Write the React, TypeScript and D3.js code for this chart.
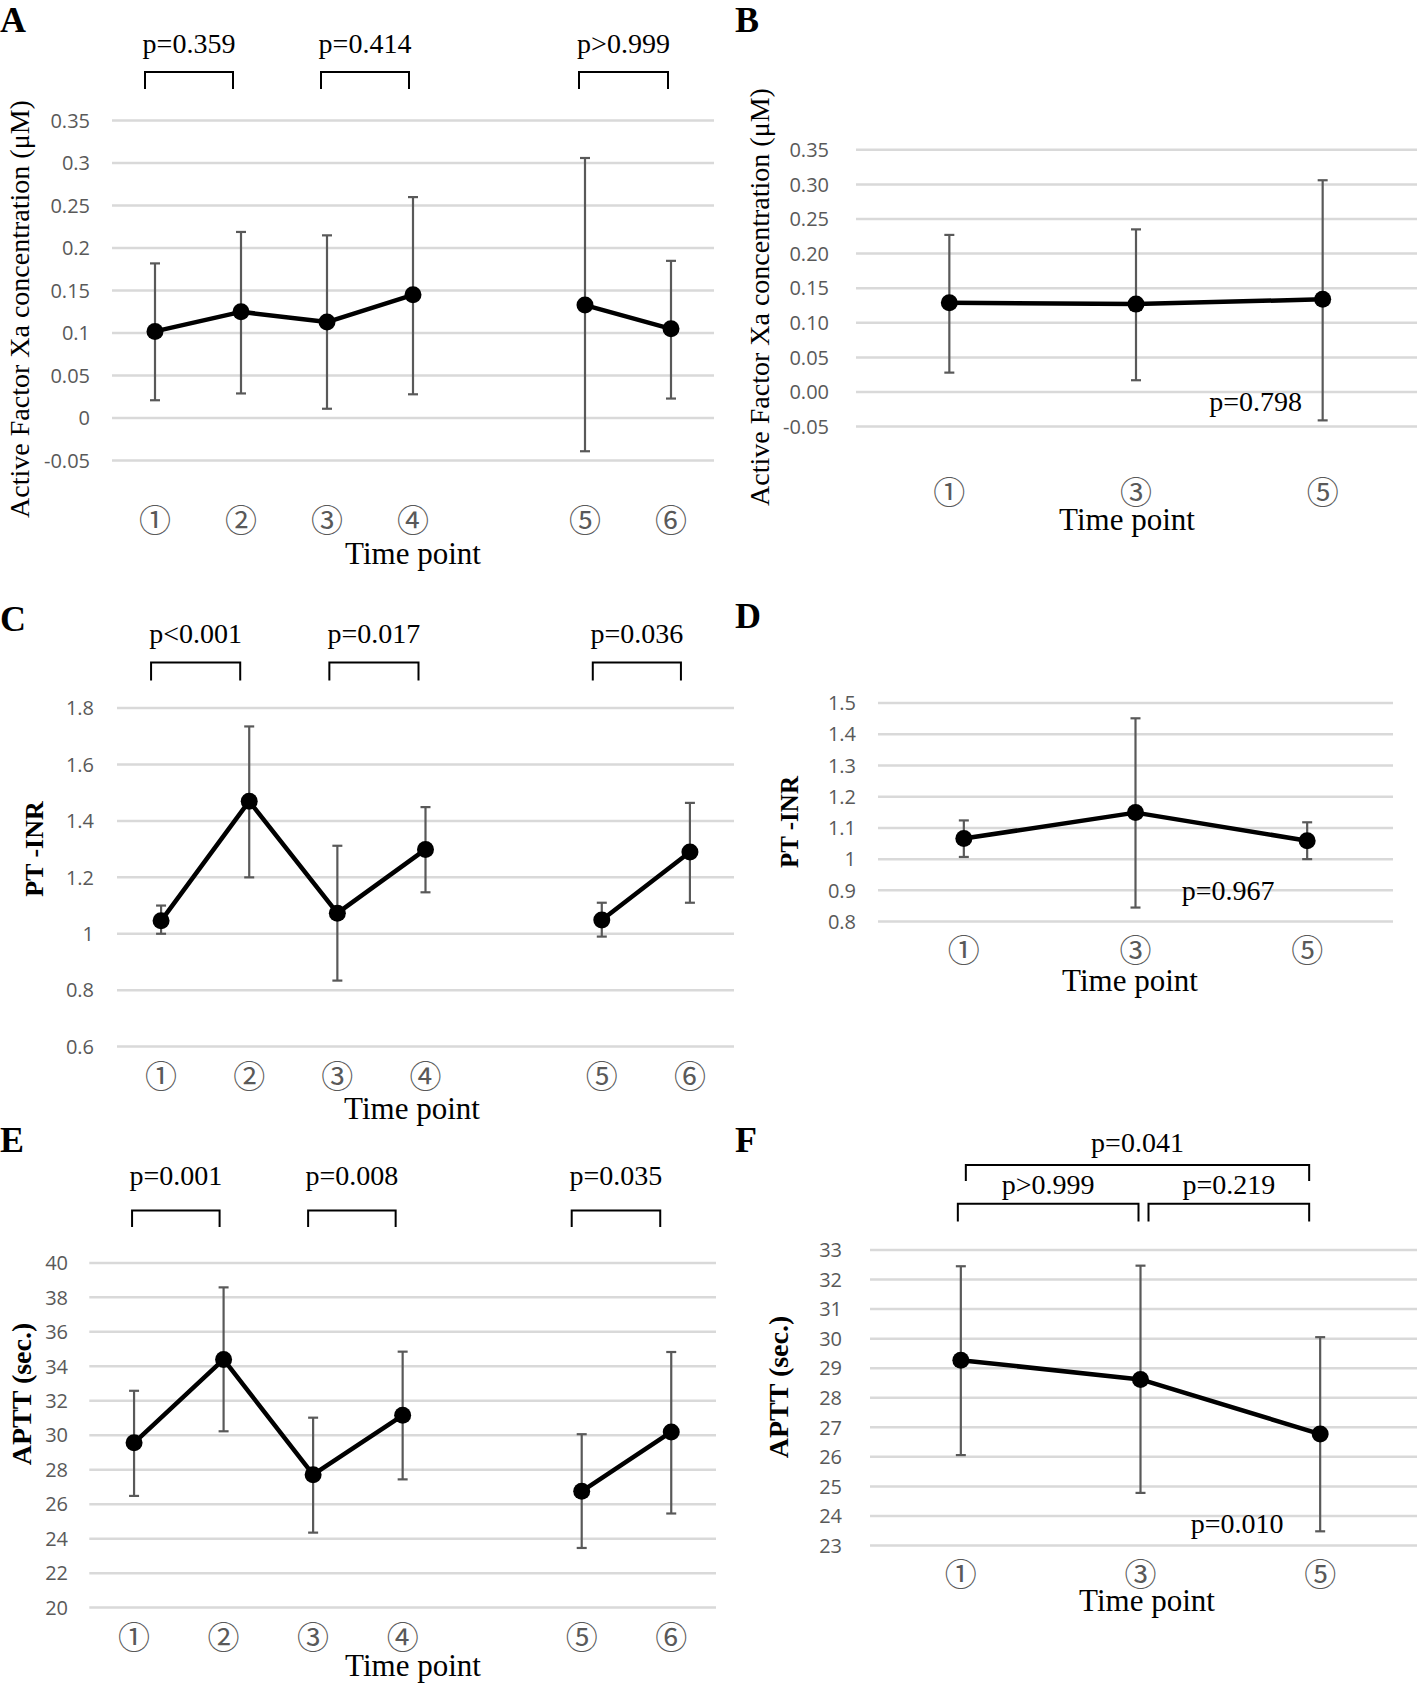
import React from 'react';
import * as d3 from 'd3';

// ---------- categories ----------
const slots6 = ['①', '②', '③', '④', '', '⑤', '⑥'];
const slots3 = ['①', '③', '⑤'];

// ---------- A: active factor Xa (all time points) ----------
const xaMeanA = [0.102, 0.125, 0.113, 0.145, null, 0.133, 0.105];
const xaLowA = [0.021, 0.029, 0.011, 0.028, null, -0.039, 0.023];
const xaHighA = [0.182, 0.219, 0.215, 0.260, null, 0.306, 0.185];
const ticksA = [-0.05, 0, 0.05, 0.1, 0.15, 0.2, 0.25, 0.3, 0.35];

// ---------- B: active factor Xa (1,3,5) ----------
const xaMeanB = [0.129, 0.127, 0.134];
const xaLowB = [0.028, 0.017, -0.041];
const xaHighB = [0.227, 0.235, 0.306];
const ticksB = [-0.05, 0, 0.05, 0.1, 0.15, 0.2, 0.25, 0.3, 0.35];

// ---------- C: PT-INR ----------
const inrMeanC = [1.046, 1.470, 1.073, 1.299, null, 1.049, 1.290];
const inrLowC = [1.0, 1.2, 0.834, 1.147, null, 0.99, 1.11];
const inrHighC = [1.10, 1.735, 1.312, 1.449, null, 1.11, 1.464];
const ticksC = [0.6, 0.8, 1.0, 1.2, 1.4, 1.6, 1.8];

// ---------- D: PT-INR (1,3,5) ----------
const inrMeanD = [1.066, 1.149, 1.059];
const inrLowD = [1.007, 0.845, 1.0];
const inrHighD = [1.124, 1.451, 1.118];
const ticksD = [0.8, 0.9, 1.0, 1.1, 1.2, 1.3, 1.4, 1.5];

// ---------- E: APTT ----------
const apttMeanE = [29.56, 34.4, 27.71, 31.16, null, 26.75, 30.19];
const apttLowE = [26.48, 30.23, 24.35, 27.44, null, 23.46, 25.46];
const apttHighE = [32.58, 38.58, 31.02, 34.85, null, 30.06, 34.83];
const ticksE = [20, 22, 24, 26, 28, 30, 32, 34, 36, 38, 40];

// ---------- F: APTT (1,3,5) ----------
const apttMeanF = [29.27, 28.62, 26.77];
const apttLowF = [26.06, 24.78, 23.48];
const apttHighF = [32.45, 32.47, 30.05];
const ticksF = [23, 24, 25, 26, 27, 28, 29, 30, 31, 32, 33];

// ---------- p-value comparisons ----------
const pairsA = [{ a: 0, b: 1, label: 'p=0.359' }, { a: 2, b: 3, label: 'p=0.414' }, { a: 5, b: 6, label: 'p>0.999' }];
const pairsC = [{ a: 0, b: 1, label: 'p<0.001' }, { a: 2, b: 3, label: 'p=0.017' }, { a: 5, b: 6, label: 'p=0.036' }];
const pairsE = [{ a: 0, b: 1, label: 'p=0.001' }, { a: 2, b: 3, label: 'p=0.008' }, { a: 5, b: 6, label: 'p=0.035' }];
const pairsF = [{ a: 0, b: 1, label: 'p>0.999' }, { a: 1, b: 2, label: 'p=0.219' }, { a: 0, b: 2, label: 'p=0.041' }];
const overallB = 'p=0.798';
const overallD = 'p=0.967';
const overallF = 'p=0.010';

// ---------- styles ----------
const SERIF = '"Liberation Serif","Times New Roman",serif';
const SANS = '"Open Sans","Noto Sans",sans-serif';
const CIRC = '"Noto Sans CJK JP","Noto Sans CJK SC",sans-serif';
const GRID = '#d9d9d9';
const GRAY = '#595959';

type Pair = { a: number; b: number; label: string };
type PanelDef = {
  letter: string; letterX: number; letterY: number;
  yTitle: string; yTitleX: number; yTitleY: number; yTitleSize: number; yTitleBold: boolean;
  cats: string[]; mean: (number | null)[]; low: (number | null)[]; high: (number | null)[];
  ticks: number[]; fmt: (v: number) => string;
  x0: number; x1: number; gridX0: number; gridX1: number; yTop: number; yBottom: number;
  tickRight: number; catY: number; timeX: number; timeY: number;
  pairs?: Pair[]; levels?: number[]; insets?: [number, number][];
  levelY?: { line: number; leg: number; text: number }[];
  note?: string; noteDx?: number; noteY?: number;
};

const genFmt = (v: number) => String(+v.toFixed(2));
const fix2 = (v: number) => v.toFixed(2);

const panels: PanelDef[] = [
  {
    letter: 'A', letterX: 0, letterY: 32, yTitle: 'Active Factor Xa concentration (μM)', yTitleX: 29, yTitleY: 309, yTitleSize: 28, yTitleBold: false,
    cats: slots6, mean: xaMeanA, low: xaLowA, high: xaHighA, ticks: ticksA, fmt: genFmt,
    x0: 112, x1: 714, gridX0: 112, gridX1: 714, yTop: 120.6, yBottom: 460.6,
    tickRight: 90, catY: 520, timeX: 413, timeY: 564,
    pairs: pairsA, levels: [0, 0, 0], insets: [[-10, -8], [-6, -4], [-6, -3]],
    levelY: [{ line: 72, leg: 89, text: 53 }],
  },
  {
    letter: 'B', letterX: 735, letterY: 32, yTitle: 'Active Factor Xa concentration (μM)', yTitleX: 769, yTitleY: 297, yTitleSize: 28, yTitleBold: false,
    cats: slots3, mean: xaMeanB, low: xaLowB, high: xaHighB, ticks: ticksB, fmt: fix2,
    x0: 856, x1: 1416, gridX0: 856, gridX1: 1417, yTop: 149.8, yBottom: 426.6,
    tickRight: 829, catY: 492, timeX: 1127, timeY: 530,
    note: overallB, noteDx: -67, noteY: 411,
  },
  {
    letter: 'C', letterX: 0, letterY: 631, yTitle: 'PT -INR', yTitleX: 43, yTitleY: 849, yTitleSize: 26, yTitleBold: true,
    cats: slots6, mean: inrMeanC, low: inrLowC, high: inrHighC, ticks: ticksC, fmt: genFmt,
    x0: 117, x1: 734, gridX0: 117, gridX1: 734, yTop: 708.1, yBottom: 1046.6,
    tickRight: 94, catY: 1076, timeX: 412, timeY: 1119,
    pairs: pairsC, levels: [0, 0, 0], insets: [[-10, -9], [-8, -7], [-9, -9]],
    levelY: [{ line: 662.6, leg: 680.5, text: 643 }],
  },
  {
    letter: 'D', letterX: 735, letterY: 628, yTitle: 'PT -INR', yTitleX: 798, yTitleY: 822, yTitleSize: 25, yTitleBold: true,
    cats: slots3, mean: inrMeanD, low: inrLowD, high: inrHighD, ticks: ticksD, fmt: genFmt,
    x0: 878, x1: 1393, gridX0: 878, gridX1: 1393, yTop: 703, yBottom: 921.6,
    tickRight: 856, catY: 950, timeX: 1130, timeY: 991,
    note: overallD, noteDx: -79, noteY: 900,
  },
  {
    letter: 'E', letterX: 0, letterY: 1152, yTitle: 'APTT (sec.)', yTitleX: 31, yTitleY: 1394, yTitleSize: 28, yTitleBold: true,
    cats: slots6, mean: apttMeanE, low: apttLowE, high: apttHighE, ticks: ticksE, fmt: genFmt,
    x0: 89.3, x1: 716, gridX0: 89.3, gridX1: 716, yTop: 1262.9, yBottom: 1607.6,
    tickRight: 68, catY: 1637, timeX: 413, timeY: 1676,
    pairs: pairsE, levels: [0, 0, 0], insets: [[-2, -4], [-5, -7], [-10, -11]],
    levelY: [{ line: 1210.5, leg: 1227, text: 1185 }],
  },
  {
    letter: 'F', letterX: 735, letterY: 1152, yTitle: 'APTT (sec.)', yTitleX: 788, yTitleY: 1387, yTitleSize: 28, yTitleBold: true,
    cats: slots3, mean: apttMeanF, low: apttLowF, high: apttHighF, ticks: ticksF, fmt: genFmt,
    x0: 871, x1: 1410, gridX0: 870, gridX1: 1417, yTop: 1250, yBottom: 1545.5,
    tickRight: 842, catY: 1574, timeX: 1147, timeY: 1611,
    pairs: pairsF, levels: [1, 1, 0], insets: [[-3, -2], [8, -11], [5, -11]],
    levelY: [{ line: 1165, leg: 1181, text: 1152 }, { line: 1203.7, leg: 1221.6, text: 1194 }],
    note: overallF, noteDx: -83, noteY: 1533,
  },
];

function Panel({ p }: { p: PanelDef }) {
  const idx = p.cats.map((_, i) => i);
  const x = d3.scaleBand<number>().domain(idx).range([p.x0, p.x1]).paddingInner(0).paddingOuter(0);
  const cx = (i: number) => (x(i) as number) + x.bandwidth() / 2;
  const y = d3.scaleLinear().domain([p.ticks[0], p.ticks[p.ticks.length - 1]]).range([p.yBottom, p.yTop]);
  const line = d3.line<number | null>()
    .defined((d) => d != null)
    .x((_, i) => cx(i))
    .y((d) => y(d as number));
  const lastIdx = idx[idx.length - 1];

  return (
    <g>
      <text x={p.letterX} y={p.letterY} fontFamily={SERIF} fontWeight="bold" fontSize={36} fill="#000">{p.letter}</text>
      {p.ticks.map((t) => (
        <g key={t}>
          <line x1={p.gridX0} x2={p.gridX1} y1={y(t)} y2={y(t)} stroke={GRID} strokeWidth={2.5} />
          <text x={p.tickRight} y={y(t)} dy="0.36em" textAnchor="end" fontFamily={SANS} fontSize={20} fill={GRAY}>{p.fmt(t)}</text>
        </g>
      ))}
      {idx.map((i) => p.mean[i] == null ? null : (
        <g key={'e' + i} stroke={GRAY} strokeWidth={2.2}>
          <line x1={cx(i)} x2={cx(i)} y1={y(p.low[i] as number)} y2={y(p.high[i] as number)} />
          <line x1={cx(i) - 5} x2={cx(i) + 5} y1={y(p.low[i] as number)} y2={y(p.low[i] as number)} />
          <line x1={cx(i) - 5} x2={cx(i) + 5} y1={y(p.high[i] as number)} y2={y(p.high[i] as number)} />
        </g>
      ))}
      <path d={line(p.mean) || ''} fill="none" stroke="#000" strokeWidth={4.5} strokeLinejoin="round" />
      {idx.map((i) => p.mean[i] == null ? null : (
        <circle key={'m' + i} cx={cx(i)} cy={y(p.mean[i] as number)} r={8.5} fill="#000" />
      ))}
      {idx.map((i) => p.cats[i] === '' ? null : (
        <text key={'c' + i} x={cx(i)} y={p.catY} dy="0.36em" textAnchor="middle" fontFamily={CIRC} fontSize={32} fill={GRAY}>{p.cats[i]}</text>
      ))}
      <text x={p.timeX} y={p.timeY} textAnchor="middle" fontFamily={SERIF} fontSize={31} fill="#000">Time point</text>
      <text transform={`translate(${p.yTitleX},${p.yTitleY}) rotate(-90)`} textAnchor="middle" fontFamily={SERIF}
        fontWeight={p.yTitleBold ? 'bold' : 'normal'} fontSize={p.yTitleSize} fill="#000">{p.yTitle}</text>
      {p.pairs && p.pairs.map((pr, k) => {
        const lv = p.levelY![p.levels![k]];
        const xa = cx(pr.a) + p.insets![k][0];
        const xb = cx(pr.b) + p.insets![k][1];
        return (
          <g key={'b' + k}>
            <path d={`M${xa},${lv.leg}V${lv.line}H${xb}V${lv.leg}`} fill="none" stroke="#000" strokeWidth={2} />
            <text x={(xa + xb) / 2} y={lv.text} textAnchor="middle" fontFamily={SERIF} fontSize={28} fill="#000">{pr.label}</text>
          </g>
        );
      })}
      {p.note && (
        <text x={cx(lastIdx) + (p.noteDx as number)} y={p.noteY} textAnchor="middle" fontFamily={SERIF} fontSize={28} fill="#000">{p.note}</text>
      )}
    </g>
  );
}

export default function App() {
  return (
    <svg width={1417} height={1683} viewBox="0 0 1417 1683" style={{ position: 'absolute', left: 0, top: 0, background: '#fff' }}>
      <rect x={0} y={0} width={1417} height={1683} fill="#fff" />
      {panels.map((p) => <Panel key={p.letter} p={p} />)}
    </svg>
  );
}
